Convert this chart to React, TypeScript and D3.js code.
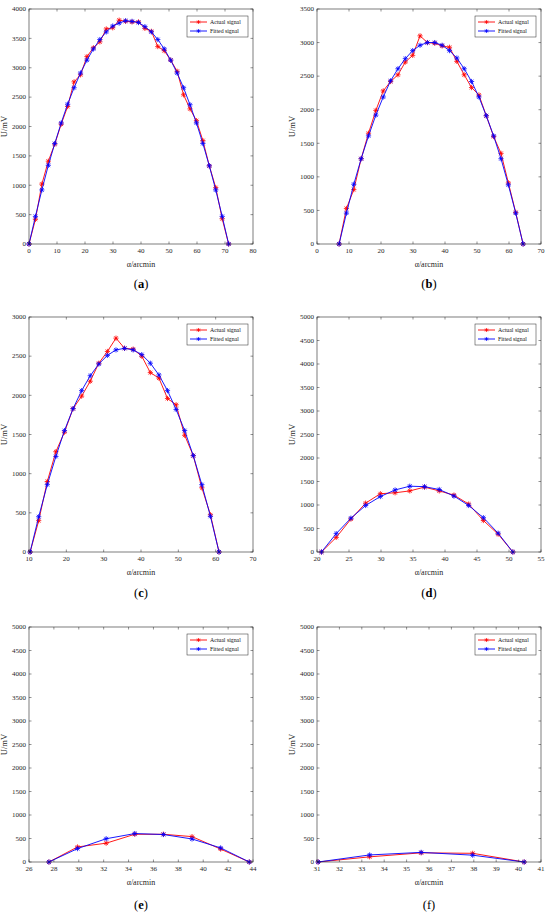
import * as d3 from 'd3';
import React from 'react';

// angle positions (arcmin) and signals (mV)
const xA = [0, 2.3, 4.6, 6.9, 9.2, 11.5, 13.8, 16.1, 18.4, 20.7, 23, 25.3, 27.6, 29.9, 32.2, 34.5, 36.8, 39.1, 41.4, 43.7, 46, 48.3, 50.6, 52.9, 55.2, 57.5, 59.8, 62.1, 64.4, 66.7, 69, 71.3];
const actualA = [0, 420, 1020, 1410, 1700, 2040, 2340, 2760, 2880, 3190, 3340, 3440, 3660, 3680, 3810, 3790, 3780, 3780, 3670, 3620, 3360, 3290, 3130, 2940, 2540, 2300, 2100, 1760, 1330, 960, 430, 0];
const fittedA = [0, 470, 920, 1340, 1710, 2060, 2380, 2660, 2910, 3130, 3320, 3480, 3610, 3710, 3760, 3800, 3790, 3770, 3700, 3610, 3480, 3320, 3130, 2910, 2660, 2370, 2060, 1710, 1330, 920, 470, 0];

const xB = [6.9, 9.2, 11.5, 13.8, 16.1, 18.4, 20.7, 23, 25.3, 27.6, 29.9, 32.2, 34.5, 36.8, 39.1, 41.4, 43.7, 46, 48.3, 50.6, 52.9, 55.2, 57.5, 59.8, 62.1, 64.4];
const actualB = [0, 530, 810, 1270, 1650, 1990, 2280, 2420, 2520, 2710, 2810, 3100, 3000, 2990, 2950, 2930, 2720, 2520, 2330, 2220, 1910, 1600, 1350, 910, 470, 0];
const fittedB = [0, 460, 890, 1270, 1610, 1920, 2190, 2430, 2610, 2760, 2880, 2960, 3000, 3000, 2960, 2880, 2770, 2610, 2420, 2190, 1910, 1610, 1270, 880, 460, 0];

const xC = [10.3, 12.6, 14.9, 17.2, 19.5, 21.8, 24.1, 26.4, 28.7, 31, 33.3, 35.6, 37.9, 40.2, 42.5, 44.8, 47.1, 49.4, 51.7, 54, 56.3, 58.6, 60.9];
const actualC = [0, 400, 900, 1280, 1530, 1830, 1990, 2180, 2410, 2560, 2730, 2600, 2590, 2500, 2290, 2220, 1960, 1880, 1490, 1230, 820, 475, 0];
const fittedC = [0, 450, 860, 1220, 1550, 1830, 2060, 2250, 2400, 2510, 2580, 2600, 2580, 2520, 2410, 2260, 2060, 1820, 1550, 1230, 860, 455, 0];

const xD = [20.7, 23, 25.3, 27.6, 29.9, 32.2, 34.5, 36.8, 39.1, 41.4, 43.7, 46, 48.3, 50.6];
const actualD = [0, 310, 700, 1040, 1240, 1260, 1300, 1380, 1300, 1210, 1020, 670, 380, 0];
const fittedD = [0, 390, 720, 990, 1180, 1320, 1400, 1390, 1330, 1190, 990, 730, 400, 0];

const xE = [27.6, 29.9, 32.2, 34.5, 36.8, 39.1, 41.4, 43.7];
const actualE = [0, 320, 400, 590, 590, 540, 275, 0];
const fittedE = [0, 285, 495, 605, 585, 490, 300, 0];

const xF = [31.05, 33.35, 35.65, 37.95, 40.25];
const actualF = [0, 110, 195, 185, 0];
const fittedF = [0, 150, 205, 145, 0];

const ticksA = [0, 10, 20, 30, 40, 50, 60, 70, 80];
const ticksB = [0, 10, 20, 30, 40, 50, 60, 70];
const ticksC = [10, 20, 30, 40, 50, 60, 70];
const ticksD = [20, 25, 30, 35, 40, 45, 50, 55];
const ticksE = [26, 28, 30, 32, 34, 36, 38, 40, 42, 44];
const ticksF = [31, 32, 33, 34, 35, 36, 37, 38, 39, 40, 41];

const seriesNames = ['Actual signal', 'Fitted signal'];
const colors = ['#ff0000', '#0000ff'];
const serif = '"Liberation Serif", "Times New Roman", serif';

type PanelProps = {
  left: number;
  top: number;
  x: number[];
  actual: number[];
  fitted: number[];
  xTicks: number[];
  yMax: number;
  caption: string;
  captionDy: number;
  boldCaption?: boolean;
};

const W = 224;
const H = 235;

function star(cx: number, cy: number, r = 2.6) {
  const d = r * 0.72;
  return `M${cx - r},${cy}L${cx + r},${cy}M${cx},${cy - r}L${cx},${cy + r}` +
    `M${cx - d},${cy - d}L${cx + d},${cy + d}M${cx - d},${cy + d}L${cx + d},${cy - d}`;
}

const Panel: React.FC<PanelProps> = ({ left, top, x, actual, fitted, xTicks, yMax, caption, captionDy, boldCaption = true }) => {
  const xs = d3.scaleLinear().domain([xTicks[0], xTicks[xTicks.length - 1]]).range([0, W]);
  const ys = d3.scaleLinear().domain([0, yMax]).range([H, 0]);
  const yTicks = d3.range(0, yMax + 1, 500);
  const line = d3.line<number>().x((_, i) => xs(x[i])).y((d) => ys(d));
  const sets = [actual, fitted];

  return (
    <g transform={`translate(${left},${top})`} fontFamily={serif}>
      <rect x={0} y={0} width={W} height={H} fill="#fff" />
      {sets.map((s, k) => (
        <g key={k}>
          <path d={line(s) || ''} fill="none" stroke={colors[k]} strokeWidth={0.9} />
          <path d={s.map((v, i) => star(xs(x[i]), ys(v))).join('')} stroke={colors[k]} strokeWidth={0.8} fill="none" />
        </g>
      ))}
      <rect x={0} y={0} width={W} height={H} fill="none" stroke="#262626" strokeWidth={0.6} />
      {xTicks.map((t) => (
        <g key={t} transform={`translate(${xs(t)},0)`}>
          <line y1={H} y2={H - 2.5} stroke="#262626" strokeWidth={0.5} />
          <line y1={0} y2={2.5} stroke="#262626" strokeWidth={0.5} />
          <text y={H + 9} textAnchor="middle" fontSize={7} fill="#262626">{t}</text>
        </g>
      ))}
      {yTicks.map((t) => (
        <g key={t} transform={`translate(0,${ys(t)})`}>
          <line x1={0} x2={2.5} stroke="#262626" strokeWidth={0.5} />
          <line x1={W} x2={W - 2.5} stroke="#262626" strokeWidth={0.5} />
          <text x={-3} dy="0.33em" textAnchor="end" fontSize={7} fill="#262626">{t}</text>
        </g>
      ))}
      <text x={W / 2} y={H + 23} textAnchor="middle" fontSize={8} fill="#262626">α/arcmin</text>
      <text transform={`translate(-22,${H / 2}) rotate(-90)`} textAnchor="middle" fontSize={8.5} fill="#262626">U/mV</text>
      <g transform={`translate(${W - 66},7)`}>
        <rect width={61} height={21} fill="#fff" stroke="#262626" strokeWidth={0.5} />
        {seriesNames.map((n, k) => (
          <g key={n} transform={`translate(0,${6 + k * 9})`}>
            <line x1={3} x2={20} stroke={colors[k]} strokeWidth={0.9} />
            <path d={star(11.5, 0, 2)} stroke={colors[k]} strokeWidth={0.7} />
            <text x={23} dy="0.33em" fontSize={5.8} fill="#111">{n}</text>
          </g>
        ))}
      </g>
      <text x={W / 2} y={H + captionDy} textAnchor="middle" fontSize={12.5} fill="#000" fontFamily='"Liberation Serif", serif'>
        (<tspan fontWeight={boldCaption ? 'bold' : 'normal'}>{caption}</tspan>)
      </text>
    </g>
  );
};

export default function App() {
  return (
    <div style={{ position: 'absolute', left: 0, top: 0, width: 550, height: 917, background: '#fff' }}>
      <svg width={550} height={917} style={{ display: 'block' }}>
        <rect width={550} height={917} fill="#fff" />
        <Panel left={29} top={9} x={xA} actual={actualA} fitted={fittedA} xTicks={ticksA} yMax={4000} caption="a" captionDy={44} />
        <Panel left={317} top={9} x={xB} actual={actualB} fitted={fittedB} xTicks={ticksB} yMax={3500} caption="b" captionDy={44} />
        <Panel left={29} top={317} x={xC} actual={actualC} fitted={fittedC} xTicks={ticksC} yMax={3000} caption="c" captionDy={45} />
        <Panel left={317} top={317} x={xD} actual={actualD} fitted={fittedD} xTicks={ticksD} yMax={5000} caption="d" captionDy={45} />
        <Panel left={29} top={627} x={xE} actual={actualE} fitted={fittedE} xTicks={ticksE} yMax={5000} caption="e" captionDy={47} />
        <Panel left={317} top={627} x={xF} actual={actualF} fitted={fittedF} xTicks={ticksF} yMax={5000} caption="f" captionDy={47} boldCaption={false} />
      </svg>
    </div>
  );
}
